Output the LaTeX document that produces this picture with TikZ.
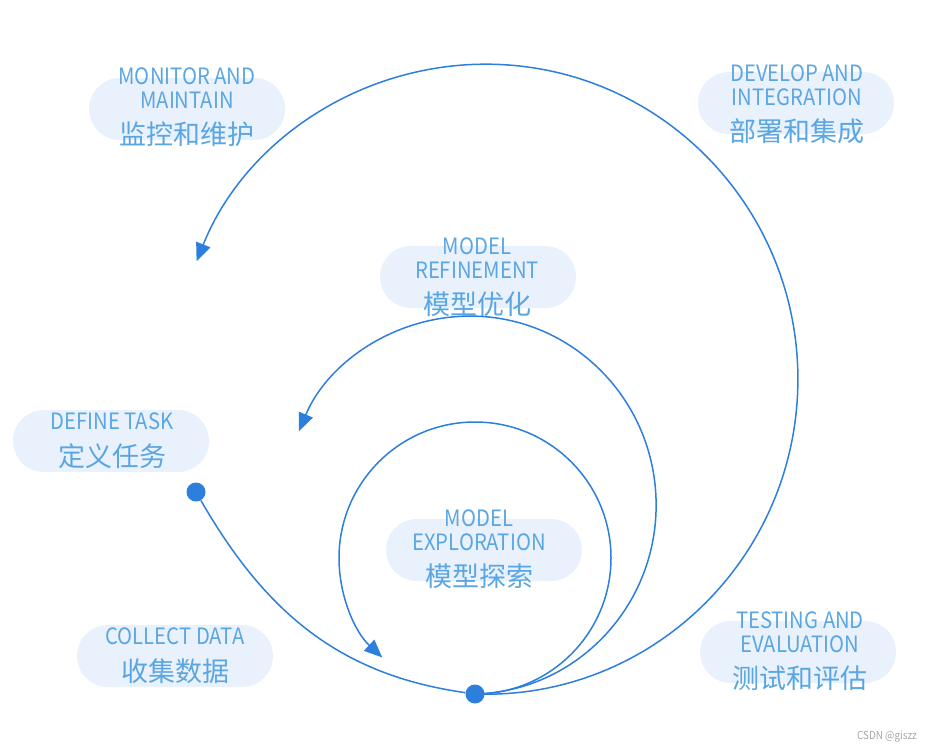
\documentclass[tikz,border=0pt]{standalone}
\usepackage{fontspec}
\setmainfont{Noto Sans CJK SC}[FakeStretch=0.9]
\newfontfamily\zhfont{Noto Sans CJK SC}
\usepackage{tikz}
\usetikzlibrary{arrows.meta}
\definecolor{flowblue}{HTML}{2C7FDD}
\definecolor{tagblue}{HTML}{5AA6E2}
\definecolor{pillfill}{HTML}{E9F1FC}
\newcommand{\zh}[1]{{\zhfont\fontsize{27}{27}\selectfont #1}}

\begin{document}
\begin{tikzpicture}[x=1pt,y=1pt,
  pill/.style={fill=pillfill, rounded corners=31pt, minimum width=196pt, minimum height=62pt, inner sep=0pt},
  tag/.style={text=tagblue, align=center, inner sep=0pt, anchor=north, font={\fontsize{22.5}{23.5}\selectfont}},
  flow/.style={draw=flowblue, line width=1.5pt, -{Triangle[length=18pt,width=15pt]}},
  dot/.style={circle, fill=flowblue, minimum size=19pt, inner sep=0pt}]
\useasboundingbox (0,0) rectangle (934,-752);

\node[pill] (monitor) at (187,-109) {};
\node[pill] (develop) at (796,-103) {};
\node[pill] (refine)  at (478,-277) {};
\node[pill] (define)  at (111,-441) {};
\node[pill] (explore) at (484,-550) {};
\node[pill] (collect) at (175,-656) {};
\node[pill] (testing) at (798,-652) {};

\node[tag] (monitortxt) at (187,-68)  {MONITOR AND\\MAINTAIN\\[13pt]\zh{监控和维护}};
\node[tag] (developtxt) at (797,-65)  {DEVELOP AND\\INTEGRATION\\[13pt]\zh{部署和集成}};
\node[tag] (refinetxt)  at (477,-238) {MODEL\\REFINEMENT\\[13pt]\zh{模型优化}};
\node[tag] (definetxt)  at (112,-413) {DEFINE TASK\\[13pt]\zh{定义任务}};
\node[tag] (exploretxt) at (479,-510) {MODEL\\EXPLORATION\\[13pt]\zh{模型探索}};
\node[tag] (collecttxt) at (175,-628) {COLLECT DATA\\[13pt]\zh{收集数据}};
\node[tag] (testingtxt) at (800,-612) {TESTING AND\\EVALUATION\\[13pt]\zh{测试和评估}};

\node[dot] (start) at (196,-492) {};
\node[dot] (bot)   at (475,-694) {};

\draw[draw=flowblue, line width=1.5pt] (start) to[out=-60, in=172] (bot);
\draw[flow] (bot.center) arc[start angle=-90, end angle=227, radius=136];
\draw[flow] (bot.center) arc[start angle=-88.5, end angle=157, x radius=186, y radius=189];
\draw[flow] (bot.center) arc[start angle=-92, end angle=158, x radius=312, y radius=315];

\node[text=gray!70, font={\fontsize{11}{11}\selectfont}] (mark) at (887,-737) {CSDN @giszz};
\end{tikzpicture}
\end{document}
